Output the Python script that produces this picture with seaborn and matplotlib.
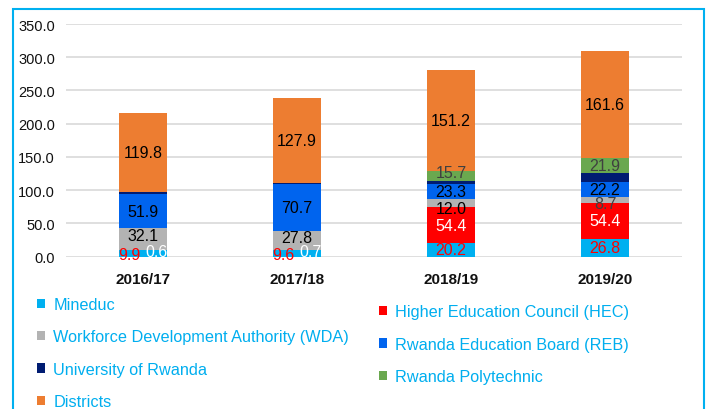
import matplotlib
matplotlib.use("Agg")
import matplotlib.pyplot as plt
from matplotlib.patches import Patch, Rectangle
import seaborn as sns
import numpy as np
import pandas as pd

years = ["2016/17", "2017/18", "2018/19", "2019/20"]
series_names = ["Mineduc", "Higher Education Council (HEC)", "Workforce Development Authority (WDA)",
                "Rwanda Education Board (REB)", "University of Rwanda", "Rwanda Polytechnic", "Districts"]
mineduc = [9.9, 9.6, 20.2, 26.8]
hec = [0.6, 0.7, 54.4, 54.4]
wda = [32.1, 27.8, 12.0, 8.7]
reb = [51.9, 70.7, 23.3, 22.2]
univ_rwanda = [2.2, 2.5, 3.5, 14.0]
polytechnic = [0.0, 0.0, 15.7, 21.9]
districts = [119.8, 127.9, 151.2, 161.6]
y_ticks = [0, 50, 100, 150, 200, 250, 300, 350]

values = [mineduc, hec, wda, reb, univ_rwanda, polytechnic, districts]
colors = ["#00B0F0", "#FF0000", "#B3B3B3", "#0064EE", "#001C72", "#6AA84F", "#ED7D31"]
label_colors = ["#FF0000", "#FFFFFF", "#000000", "#000000", None, "#404040", "#000000"]
show_labels = [True, True, True, True, False, True, True]

# style: small label placement nudges (x in category units, y in data units)
nudges = {
    (0, 0): (-0.09, None), (0, 1): (-0.09, None),
    (1, 0): (0.09, None), (1, 1): (0.09, None),
    (2, 0): (0, 6), (2, 1): (0, 5), (2, 2): (0, -8), (2, 3): (0, -5),
    (5, 2): (0, 6),
}
abs_y = {(0, 0): 3.5, (0, 1): 3.5, (1, 0): 8.5, (1, 1): 8.5}

sns.set_theme(style="white")
plt.rcParams["font.family"] = ["Liberation Sans", "DejaVu Sans"]

fig = plt.figure(figsize=(7.09, 4.10), dpi=100)
ax = fig.add_axes([66 / 709, 1 - 257.7 / 410, (682 - 66) / 709, (257.7 - 25) / 410])

df = pd.DataFrame({name: vals for name, vals in zip(series_names, values)}, index=years)
cum = df.cumsum(axis=1)
bottoms = cum.shift(1, axis=1).fillna(0)

# draw cumulative bars from top-most series down so each overlays the previous
for k in range(len(series_names) - 1, -1, -1):
    name = series_names[k]
    sub = pd.DataFrame({"year": years, "top": cum[name].values})
    sns.barplot(data=sub, x="year", y="top", color=colors[k], width=0.31,
                saturation=1, ax=ax, linewidth=0, order=years)

# value labels
for k, name in enumerate(series_names):
    if not show_labels[k]:
        continue
    for i, yr in enumerate(years):
        v = df.loc[yr, name]
        if v <= 0:
            continue
        c = label_colors[k]
        if k == 2 and i == 3:
            c = "#404040"
        dx, dy = nudges.get((k, i), (0, 0))
        x = i + dx
        if (k, i) in abs_y:
            ymid = abs_y[(k, i)]
        else:
            ymid = bottoms.loc[yr, name] + v / 2 + (dy or 0)
        ax.text(x, ymid, f"{v:.1f}", ha="center", va="center", fontsize=11.5, color=c)

ax.set_ylim(0, 350)
ax.set_xlim(-0.5, 3.5)
ax.set_yticks(y_ticks)
ax.set_yticklabels([f"{t:.1f}" for t in y_ticks], fontsize=10.5, color="#111111")
ax.set_xticks(range(len(years)))
ax.set_xticklabels(years, fontsize=11, fontweight="bold", color="#111111")
ax.tick_params(axis="y", length=0, pad=8)
ax.tick_params(axis="x", length=0, pad=11)
ax.set_xlabel("")
ax.set_ylabel("")
ax.yaxis.grid(True, color="#D9D9D9", linewidth=1.2)
ax.set_axisbelow(True)
for s in ax.spines.values():
    s.set_visible(False)

leg_kw = dict(frameon=False, fontsize=11.7, labelcolor="#00AEEF", handlelength=0.5,
              handleheight=0.5, handletextpad=0.5, labelspacing=1.07, borderpad=0,
              borderaxespad=0)
left_idx = [0, 2, 4, 6]
right_idx = [1, 3, 5]
h_left = [Patch(facecolor=colors[k], edgecolor="none", label=series_names[k]) for k in left_idx]
h_right = [Patch(facecolor=colors[k], edgecolor="none", label=series_names[k]) for k in right_idx]
leg1 = fig.legend(handles=h_left, loc="upper left", bbox_to_anchor=(37 / 709, 1 - 298 / 410), **leg_kw)
leg2 = fig.legend(handles=h_right, loc="upper left", bbox_to_anchor=(379 / 709, 1 - 305.5 / 410), **leg_kw)

fig.patches.append(Rectangle((13 / 709, -0.05), (704 - 13) / 709, 1.05 - 10 / 410,
                             transform=fig.transFigure, fill=False, edgecolor="#00B0F0",
                             linewidth=1.5, figure=fig))

fig.savefig("out.png", dpi=100)
